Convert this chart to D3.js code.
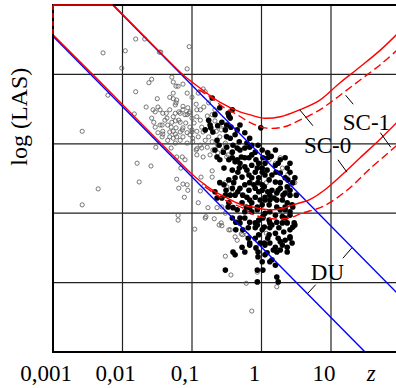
<!DOCTYPE html>
<html>
<head>
<meta charset="utf-8">
<script src="https://cdn.jsdelivr.net/npm/d3@7"></script>
<style>
  html, body { margin: 0; padding: 0; background: #fff; }
  svg { display: block; font-family: "Liberation Serif", "Times New Roman", serif; }
</style>
</head>
<body>
<div id="chart"></div>
<script>
// values are [log10 z, log LAS] (LAS axis has no numbers, one grid step = one decade)
const xTicks = [-3, -2, -1, 0, 1];
const xTickLabels = ["0,001", "0,01", "0,1", "1", "10"];
const yGrid = [1, 2, 3, 4];

const duUpper = [[-2.14, 5.0], [1.94, 0.86]];
const duLower = [[-3, 4.55], [1.49, 0]];

const sc1Solid = [[-2.14, 5.01], [-1.46, 4.32], [-1.24, 4.10], [-1.10, 3.97], [-0.88, 3.80], [-0.60, 3.60],
  [-0.31, 3.46], [-0.17, 3.42], [0.02, 3.37], [0.27, 3.39], [0.55, 3.49], [0.84, 3.63], [1.13, 3.88],
  [1.42, 4.11], [1.71, 4.35], [1.94, 4.57]];
const sc1Dashed = [[-0.91, 3.78], [-0.77, 3.70], [-0.55, 3.53], [-0.35, 3.42], [-0.17, 3.31], [0.05, 3.23],
  [0.31, 3.24], [0.55, 3.34], [0.84, 3.49], [1.13, 3.70], [1.42, 3.92], [1.71, 4.14], [1.94, 4.34]];
const sc0Solid = [[-3, 4.57], [-2.32, 3.89], [-1.60, 3.16], [-1.24, 2.80], [-1.03, 2.59], [-0.88, 2.46],
  [-0.70, 2.33], [-0.52, 2.23], [-0.31, 2.13], [-0.09, 2.08], [0.09, 2.05], [0.27, 2.06], [0.45, 2.12],
  [0.70, 2.20], [0.94, 2.36], [1.23, 2.62], [1.42, 2.80], [1.71, 3.07], [1.94, 3.30]];
const sc0Dashed = [[-0.81, 2.38], [-0.67, 2.28], [-0.47, 2.16], [-0.28, 2.08], [-0.09, 1.97], [0.15, 1.92],
  [0.40, 1.93], [0.58, 2.00], [0.89, 2.10], [1.23, 2.33], [1.56, 2.64], [1.94, 2.97]];
const topEdgeSolid = [[-3, 5], [-2.14, 5]];
const leftEdgeDashed = [[-3, 5], [-3, 4.55]];

const openPts = [[-1.81, 4.51], [-1.68, 4.51], [-2.28, 4.31], [-1.96, 4.34], [-1.47, 4.32], [-1.45, 4.32],
  [-1.04, 4.40], [-2.01, 4.09], [-1.07, 4.08], [-1.58, 3.93], [-1.62, 3.88], [-1.29, 3.96], [-1.27, 3.89],
  [-1.20, 3.83], [-1.81, 3.75], [-1.00, 3.67], [-2.21, 3.70], [-1.50, 3.65], [-1.66, 3.53], [-1.27, 3.65],
  [-1.22, 3.63], [-1.24, 3.56], [-1.13, 3.54], [-1.19, 3.46], [-1.10, 3.42], [-1.04, 3.44], [-0.93, 3.49],
  [-1.83, 3.43], [-1.56, 3.49], [-1.58, 3.37], [-1.55, 3.31], [-1.46, 3.49], [-1.37, 3.44], [-1.32, 3.49],
  [-1.36, 3.37], [-1.27, 3.39], [-1.24, 3.33], [-1.35, 3.27], [-1.30, 3.24], [-1.43, 3.27], [-1.17, 3.31],
  [-0.97, 3.30], [-1.00, 3.20], [-1.03, 3.13], [-1.13, 3.23], [-1.27, 3.18], [-1.32, 3.10], [-1.22, 3.10],
  [-1.13, 3.10], [-1.49, 3.16], [-1.42, 3.14], [-2.58, 3.18], [-1.24, 3.01], [-1.30, 2.94], [-1.52, 2.95],
  [-1.79, 2.72], [-1.59, 2.68], [-1.22, 2.81], [-1.14, 2.81], [-1.10, 2.77], [-1.16, 2.65], [-1.22, 2.49],
  [-1.13, 2.42], [-1.07, 2.41], [-1.06, 2.33], [-1.19, 2.36], [-1.76, 2.45], [-2.35, 2.35], [-1.11, 2.23],
  [-2.58, 2.12], [-0.93, 2.93], [-0.91, 2.15], [-1.20, 1.97], [-1.20, 1.90], [-0.96, 1.77], [-1.24, 3.14],
  [-1.17, 3.17], [-1.00, 3.17], [-0.99, 3.08], [-0.52, 1.38], [-0.44, 1.11], [-0.22, 0.99], [-0.14, 0.59],
  [0.22, 0.94], [-0.06, 1.15], [-0.81, 1.93], [-0.68, 1.92], [-0.58, 1.86], [-0.57, 1.82], [-0.45, 1.76],
  [-0.38, 1.66], [-0.29, 1.70], [-0.27, 1.69], [-0.35, 1.61], [0.07, 1.71], [-0.77, 2.08], [-0.87, 2.52],
  [-0.83, 2.39], [-0.71, 2.61], [-0.80, 1.95], [-0.64, 2.08], [-0.57, 2.09], [-0.61, 1.83], [-0.50, 2.38],
  [-0.42, 2.29], [0.07, 2.44], [0.11, 2.29], [0.37, 2.35], [0.43, 2.41], [0.48, 2.44], [0.38, 2.56],
  [-0.71, 2.52], [-0.88, 2.32], [-0.52, 2.44], [-1.23, 3.83], [-1.13, 3.86], [-1.27, 3.73], [-1.07, 3.73],
  [-0.91, 3.73], [-0.84, 3.79], [-0.81, 3.75], [-1.32, 3.67], [-1.23, 3.59], [-1.06, 3.52], [-0.94, 3.57],
  [-0.88, 3.49], [-0.83, 3.53], [-0.76, 3.59], [-0.67, 3.49], [-1.49, 3.53], [-1.53, 3.46], [-1.42, 3.44],
  [-1.24, 3.44], [-1.17, 3.44], [-1.13, 3.49], [-1.07, 3.42], [-1.03, 3.46], [-1.00, 3.37], [-0.93, 3.39],
  [-0.88, 3.34], [-0.86, 3.24], [-0.78, 3.40], [-0.71, 3.42], [-1.39, 3.34], [-1.29, 3.31], [-1.19, 3.34],
  [-1.09, 3.30], [-1.03, 3.24], [-1.46, 3.27], [-1.53, 3.24], [-1.42, 3.18], [-1.32, 3.17], [-1.23, 3.23],
  [-1.14, 3.20], [-1.07, 3.16], [-0.93, 3.18], [-0.84, 3.17], [-0.91, 3.10], [-0.81, 3.05], [-0.76, 3.10],
  [-0.71, 3.03], [-1.43, 3.10], [-1.35, 3.05], [-1.27, 3.08], [-1.17, 3.05], [-1.07, 3.01], [-0.99, 3.03],
  [-0.88, 2.98], [-0.94, 2.91], [-0.86, 2.94], [-0.78, 2.95], [-0.70, 2.91], [-0.63, 2.98], [-0.93, 2.84],
  [-0.84, 2.81], [-0.74, 2.84], [-0.63, 2.87], [-0.55, 2.91], [-0.48, 2.84], [-0.52, 3.01], [-0.51, 3.11],
  [-0.60, 3.10], [-0.65, 3.18], [-0.58, 3.20], [-0.55, 3.27], [-0.63, 3.27], [-0.67, 3.33], [0.08, 2.88],
  [0.11, 2.77], [0.20, 2.72], [0.27, 2.80], [0.30, 2.65], [0.48, 2.51], [-0.50, 2.81], [-0.54, 2.91],
  [-0.52, 2.98], [-0.52, 2.00], [-0.47, 1.76], [-0.21, 1.69], [0.22, 2.19]];

const filledPts = [[-0.71, 3.66], [-0.47, 3.40], [-0.57, 3.31], [-0.63, 3.26], [-0.74, 3.27], [-0.70, 3.17],
  [-0.52, 3.20], [-0.45, 3.08], [-0.38, 3.13], [-0.32, 3.03], [-0.21, 3.01], [-0.41, 2.98], [-0.50, 2.95],
  [-0.61, 2.98], [-0.67, 2.91], [-0.55, 2.88], [-0.42, 2.88], [-0.31, 2.91], [-0.24, 2.94], [-0.17, 2.95],
  [-0.09, 2.88], [-0.01, 3.23], [0.09, 2.87], [0.14, 2.82], [0.27, 2.77], [0.20, 2.69], [0.37, 2.65],
  [-0.76, 3.34], [-0.73, 3.23], [-0.48, 3.44], [-0.45, 3.37], [-0.50, 3.27], [-0.44, 3.24], [-0.35, 2.94],
  [-0.64, 3.05], [-0.29, 2.81], [-0.64, 2.81], [-0.50, 3.10], [-0.35, 3.20], [-0.14, 2.84], [-0.18, 2.80],
  [-0.38, 2.74], [-0.47, 2.77], [-0.54, 2.65], [-0.42, 2.62], [-0.32, 2.65], [-0.24, 2.67], [-0.14, 2.69],
  [-0.04, 2.72], [0.01, 2.65], [-0.09, 2.59], [-0.18, 2.55], [-0.28, 2.52], [-0.38, 2.51], [-0.47, 2.48],
  [-0.04, 2.51], [0.05, 2.55], [0.11, 2.48], [0.15, 2.55], [0.20, 2.45], [0.27, 2.44], [0.37, 2.38],
  [0.01, 2.41], [-0.11, 2.41], [-0.24, 2.41], [-0.54, 2.41], [-0.60, 2.77], [0.24, 2.72], [-0.21, 2.62],
  [0.27, 2.58], [0.38, 2.48], [-0.31, 2.36], [-0.18, 2.33], [-0.09, 2.36], [0.04, 2.38], [0.15, 2.33],
  [0.27, 2.36], [0.34, 2.29], [-0.21, 2.23], [-0.09, 2.23], [0.05, 2.23], [0.18, 2.22], [0.30, 2.19],
  [0.37, 2.15], [-0.28, 2.15], [-0.14, 2.15], [0.01, 2.12], [0.11, 2.12], [0.22, 2.09], [-0.35, 2.05],
  [-0.24, 2.02], [0.05, 2.00], [0.20, 1.97], [0.30, 1.95], [0.37, 1.86], [0.11, 1.90], [-0.04, 1.90],
  [-0.17, 1.87], [-0.09, 1.79], [0.04, 1.80], [0.15, 1.83], [0.25, 1.79], [0.32, 1.73], [0.20, 1.71],
  [0.11, 1.69], [-0.04, 1.69], [0.12, 1.57], [0.20, 1.51], [0.41, 1.66], [0.44, 1.57], [-0.28, 1.51],
  [-0.57, 2.22], [-0.47, 2.15], [-0.42, 2.36], [-0.67, 2.31], [-0.52, 2.26], [-0.17, 1.57], [-0.38, 1.40],
  [-0.52, 1.18], [-0.05, 1.37], [0.05, 1.40], [0.15, 1.33], [0.37, 1.44], [0.27, 1.59], [0.48, 1.83],
  [0.17, 1.47], [0.22, 1.08], [0.24, 1.01], [0.01, 1.30], [-0.06, 1.18], [-0.41, 1.44], [-0.02, 1.57],
  [0.08, 1.43], [0.02, 1.18], [-0.06, 1.01], [0.20, 1.25], [0.27, 1.47], [0.37, 1.51], [0.45, 1.80],
  [-0.06, 1.83], [-0.64, 2.22], [-0.41, 2.08], [-0.45, 2.26], [-0.60, 2.44], [-0.35, 2.77], [-0.08, 2.77],
  [0.02, 2.80], [-0.14, 2.51], [0.08, 2.62], [-0.06, 2.65], [-0.34, 2.31], [-0.04, 2.31], [0.09, 2.31],
  [0.22, 2.29], [-0.17, 2.08], [-0.06, 2.05], [0.27, 2.05], [-0.31, 1.93], [0.02, 1.95], [0.22, 1.87],
  [-0.19, 1.79], [0.24, 1.64], [0.04, 1.57], [-0.08, 1.50], [-0.37, 1.87], [0.34, 2.05], [0.41, 1.97],
  [0.44, 2.12], [0.41, 2.26], [0.12, 2.19], [-0.02, 2.19], [-0.27, 1.76], [-0.19, 1.64], [0.34, 1.61],
  [0.12, 1.79],
  [-0.14, 2.98], [-0.05, 2.98], [0.01, 2.91], [0.20, 2.91], [-0.42, 2.80], [-0.24, 2.80], [0.09, 2.80],
  [0.34, 2.80], [-0.31, 2.72], [0.05, 2.72], [0.41, 2.72], [-0.34, 2.59], [0.01, 2.59], [0.21, 2.59],
  [0.41, 2.59], [0.34, 2.51], [0.48, 2.51], [-0.40, 2.44], [-0.17, 2.44], [-0.05, 2.44], [0.45, 2.44],
  [-0.51, 2.33], [0.01, 2.33], [0.24, 2.33], [0.41, 2.33], [-0.38, 2.26], [-0.27, 2.26], [0.12, 2.26],
  [0.31, 2.26], [0.50, 2.26], [-0.17, 2.19], [0.05, 2.19], [0.22, 2.19], [-0.48, 2.09], [-0.22, 2.09],
  [-0.06, 2.09], [0.34, 2.09], [0.45, 2.09], [-0.14, 2.02], [0.12, 2.02], [0.41, 2.02], [-0.42, 1.93],
  [-0.24, 1.93], [0.02, 1.93], [0.34, 1.93], [-0.31, 1.86], [-0.09, 1.86], [0.12, 1.86], [0.30, 1.86],
  [0.47, 1.86], [-0.37, 1.76], [0.01, 1.76], [0.41, 1.76], [-0.09, 1.64], [0.09, 1.64], [0.41, 1.64],
  [-0.17, 1.54], [0.05, 1.54], [0.30, 1.54], [-0.24, 1.44], [-0.05, 1.44], [0.22, 1.44], [0.12, 1.30],
  [-0.60, 3.52], [-0.42, 3.49], [-0.31, 3.27], [-0.24, 3.16], [-0.67, 3.42], [-0.81, 3.20], [-0.17, 3.08]];

const leaders = [
  [[1.21, 3.70], [1.32, 3.57]], [[1.71, 3.16], [1.86, 2.95]],
  [[0.55, 3.49], [0.74, 3.26]], [[1.10, 2.77], [1.23, 2.59]],
  [[1.17, 1.35], [1.30, 1.50]], [[0.66, 0.84], [0.78, 0.97]]
];
const curveLabels = [
  { text: "SC-1", at: [1.17, 3.20] },
  { text: "SC-0", at: [0.61, 2.87] },
  { text: "DU", at: [0.71, 1.04] }
];

const W = 396, H = 388;
const x = d3.scaleLinear().domain([-3, 2]).range([53, 400.5]);
const y = d3.scaleLinear().domain([0, 5]).range([352, 5]);

const svg = d3.create("svg").attr("width", W).attr("height", H);

svg.append("clipPath").attr("id", "plot")
  .append("rect").attr("x", 52).attr("y", 4).attr("width", W - 52).attr("height", 349);

// grid
const grid = svg.append("g").attr("stroke", "#222").attr("stroke-width", 1.2);
grid.selectAll("line.v").data(xTicks.slice(1)).join("line")
  .attr("x1", d => x(d)).attr("x2", d => x(d))
  .attr("y1", y(5)).attr("y2", y(0));
grid.selectAll("line.h").data(yGrid).join("line")
  .attr("x1", x(-3)).attr("x2", W)
  .attr("y1", d => y(d)).attr("y2", d => y(d));

// points
const pts = svg.append("g").attr("clip-path", "url(#plot)");
pts.append("g").selectAll("circle").data(openPts).join("circle")
  .attr("cx", d => x(d[0])).attr("cy", d => y(d[1])).attr("r", 2.1)
  .attr("fill", "none").attr("stroke", "#555").attr("stroke-width", 0.8);
pts.append("g").selectAll("circle").data(filledPts).join("circle")
  .attr("cx", d => x(d[0])).attr("cy", d => y(d[1])).attr("r", 2.8)
  .attr("fill", "#000");

// curves
const line = d3.line().x(d => x(d[0])).y(d => y(d[1]));
const smooth = d3.line().x(d => x(d[0])).y(d => y(d[1])).curve(d3.curveCatmullRom.alpha(0.5));
const curves = svg.append("g").attr("clip-path", "url(#plot)").attr("fill", "none").attr("stroke-width", 1.4);

[duUpper, duLower].forEach(p => curves.append("path").attr("d", line(p)).attr("stroke", "#0000ff"));
[sc1Solid, sc0Solid].forEach(p => curves.append("path").attr("d", smooth(p)).attr("stroke", "#ff0000"));
[sc1Dashed, sc0Dashed].forEach(p => curves.append("path").attr("d", smooth(p))
  .attr("stroke", "#ff0000").attr("stroke-dasharray", "8,4"));

// leader lines + labels
svg.append("g").selectAll("path").data(leaders).join("path")
  .attr("d", d => line(d)).attr("stroke", "#000").attr("stroke-width", 1).attr("fill", "none");
svg.append("g").selectAll("text").data(curveLabels).join("text")
  .attr("x", d => x(d.at[0])).attr("y", d => y(d.at[1]))
  .attr("font-size", 23).attr("fill", "#000")
  .text(d => d.text);

// frame
const frame = svg.append("g").attr("stroke", "#000").attr("stroke-width", 2).attr("fill", "none");
frame.append("line").attr("x1", x(-3)).attr("x2", x(-3)).attr("y1", y(5) - 1).attr("y2", y(0) + 1);
frame.append("line").attr("x1", x(-3) - 1).attr("x2", W).attr("y1", y(0)).attr("y2", y(0));
frame.append("line").attr("x1", x(-3) - 1).attr("x2", W).attr("y1", y(5)).attr("y2", y(5));

// red curve pieces that run along the frame, drawn over it
const edge = svg.append("g").attr("fill", "none").attr("stroke", "#ff0000").attr("stroke-width", 1.4);
edge.append("path").attr("d", line(topEdgeSolid));
edge.append("path").attr("d", line(leftEdgeDashed)).attr("stroke-dasharray", "5,3");

// x tick labels
svg.append("g").selectAll("text").data(xTicks).join("text")
  .attr("x", d => x(d) - 7).attr("y", 381)
  .attr("text-anchor", "middle").attr("font-size", 23)
  .text((d, i) => xTickLabels[i]);
svg.append("text").attr("x", x(1.58)).attr("y", 381)
  .attr("text-anchor", "middle").attr("font-size", 23).attr("font-style", "italic").text("z");

svg.append("text")
  .attr("transform", `translate(27, ${y(3.39)}) rotate(-90)`)
  .attr("text-anchor", "middle").attr("font-size", 24)
  .text("log (LAS)");

document.getElementById("chart").append(svg.node());
</script>
</body>
</html>
